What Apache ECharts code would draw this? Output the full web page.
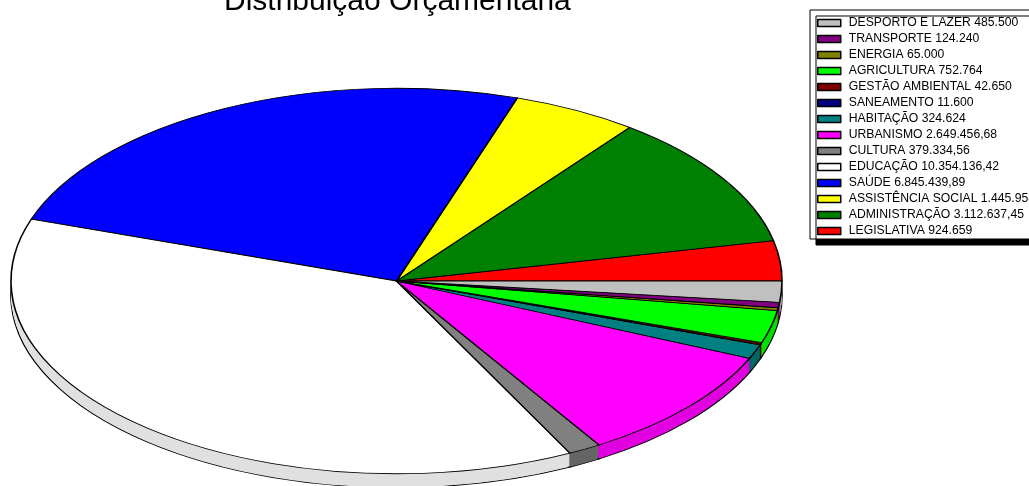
<!DOCTYPE html>
<html>
<head>
<meta charset="utf-8">
<style>html,body{margin:0;padding:0;background:#fff;overflow:hidden}#c{width:1029px;height:486px}</style>
<script src="https://cdn.jsdelivr.net/npm/echarts@6/dist/echarts.min.js"></script>
</head>
<body>
<div id="c"></div>
<script>
const titleText = 'Distribuição Orçamentária';
// In drawing order: counter-clockwise from the 3 o'clock position
const categories = ['LEGISLATIVA','ADMINISTRAÇÃO','ASSISTÊNCIA SOCIAL','SAÚDE','EDUCAÇÃO','CULTURA','URBANISMO','HABITAÇÃO','SANEAMENTO','GESTÃO AMBIENTAL','AGRICULTURA','ENERGIA','TRANSPORTE','DESPORTO E LAZER'];
const values = [924659,3112637.45,1445958,6845439.89,10354136.42,379334.56,2649456.68,324624,11600,42650,752764,65000,124240,485500];
const valueLabels = ['924.659','3.112.637,45','1.445.958','6.845.439,89','10.354.136,42','379.334,56','2.649.456,68','324.624','11.600','42.650','752.764','65.000','124.240','485.500'];
const topColors = ['#ff0000','#008000','#ffff00','#0000ff','#ffffff','#808080','#ff00ff','#008080','#000080','#800000','#00ff00','#808000','#800080','#c0c0c0'];
const wallColors = ['#e00000','#006600','#e0e000','#0000e0','#e0e0e0','#666666','#e000e0','#006666','#000066','#660000','#00e000','#666600','#660066','#a0a0a0'];

const CX = 396.5, CY = 281, RX = 385.5, SQUASH = 0.5, DEPTH = 14;
const names = categories.map((c, i) => c + ' ' + valueLabels[i]);
const total = values.reduce((a, b) => a + b, 0);

function pieLayer(name, cy, colors, borderWidth) {
  return {
    type: 'pie', name, silent: true, animation: false,
    center: [CX, cy], radius: [0, RX], startAngle: 0, clockwise: false,
    avoidLabelOverlap: false, label: {show: false}, labelLine: {show: false},
    itemStyle: {borderColor: '#000', borderWidth},
    data: names.map((n, i) => ({name: n, value: values[i], itemStyle: {color: colors[i]}}))
  };
}
const series = [];
series.push(pieLayer('wall-outline', CY + DEPTH, wallColors, 1.6));
for (let d = DEPTH - 1; d > 0; d--) series.push(pieLayer('wall-' + d, CY + d, wallColors, 0));
// vertical wall edges between slices, from the same values
const startFractions = values.map((v, i) => values.slice(0, i).reduce((a, b) => a + b, 0) / total);
series.push({
  type: 'custom', name: 'wall-edges', silent: true, animation: false,
  coordinateSystem: 'none', z: 2,
  data: startFractions.filter(f => f > 0.5).map(f => [f]),
  renderItem(params, api) {
    const a = api.value(0) * 2 * Math.PI;
    const x = CX + RX * Math.cos(a), y = CY - RX * SQUASH * Math.sin(a);
    return {type: 'line', shape: {x1: x, y1: y, x2: x, y2: y + DEPTH}, style: {stroke: '#000', lineWidth: 1}};
  }
});
const topLayer = pieLayer('top', CY, topColors, 1.6);
topLayer.z = 3;
series.push(topLayer);

const chart = echarts.init(document.getElementById('c'), null, {renderer: 'canvas'});
chart.setOption({
  backgroundColor: '#fff',
  animation: false,
  title: {text: titleText, left: 219, top: -18, textStyle: {fontFamily: 'Liberation Sans', fontSize: 30, fontWeight: 'normal', color: '#000'}},
  tooltip: {show: false},
  legend: {
    orient: 'vertical', left: 810, top: 10, selectedMode: false,
    data: names.map((n, i) => ({name: n, itemStyle: {color: topColors[i]}})).reverse(),
    icon: 'rect', itemWidth: 23, itemHeight: 7, itemGap: 4,
    padding: [7, 40, 2, 7],
    itemStyle: {borderColor: '#000', borderWidth: 1.5},
    textStyle: {fontFamily: 'Liberation Sans', fontSize: 12.2, color: '#000', padding: [0, 0, 0, 3], lineHeight: 12},
    backgroundColor: '#fff', borderColor: '#000', borderWidth: 1,
    shadowColor: '#000', shadowBlur: 0, shadowOffsetX: 6, shadowOffsetY: 6
  },
  series
});

// Squash each pie layer into the tilted ellipse
series.forEach((s, si) => {
  if (s.type !== 'pie') return;
  const data = chart.getModel().getSeriesByIndex(si).getData();
  data.each(i => {
    const el = data.getItemGraphicEl(i);
    if (!el) return;
    el.originX = CX; el.originY = s.center[1]; el.scaleY = SQUASH;
    el.traverse(c => { if (c.style) c.style.strokeNoScale = true; });
    el.markRedraw();
  });
});
</script>
</body>
</html>
